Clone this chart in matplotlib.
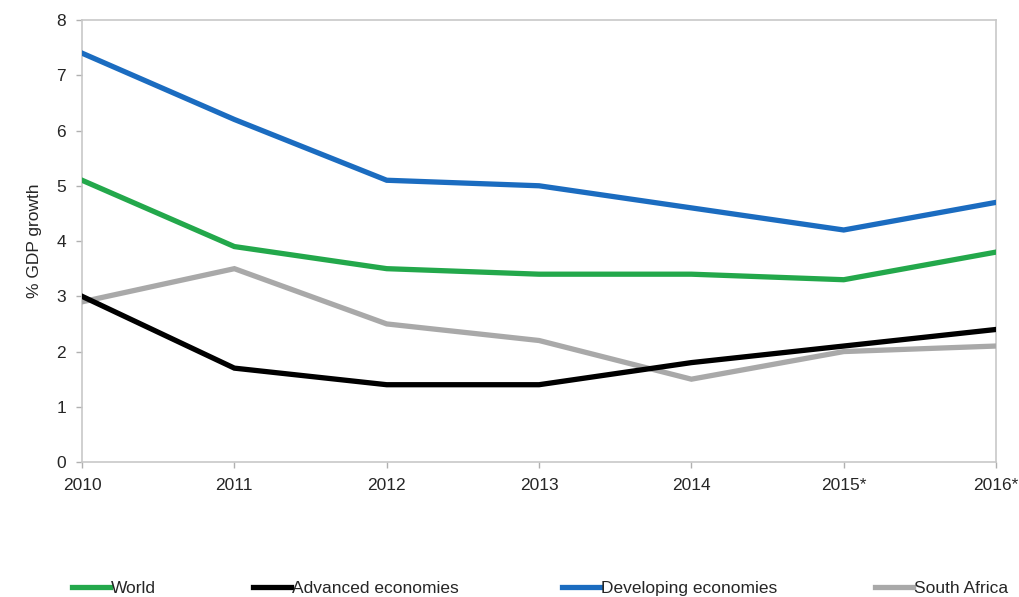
import matplotlib.pyplot as plt
from matplotlib.lines import Line2D

plt.rcParams['font.family'] = ['Liberation Sans', 'DejaVu Sans']

# GDP growth, % per year
years = ['2010', '2011', '2012', '2013', '2014', '2015*', '2016*']
world = [5.1, 3.9, 3.5, 3.4, 3.4, 3.3, 3.8]
advanced = [3.0, 1.7, 1.4, 1.4, 1.8, 2.1, 2.4]
developing = [7.4, 6.2, 5.1, 5.0, 4.6, 4.2, 4.7]
south_africa = [2.9, 3.5, 2.5, 2.2, 1.5, 2.0, 2.1]

series = [
    ('World', world, '#23a84b'),
    ('Advanced economies', advanced, '#000000'),
    ('Developing economies', developing, '#1b6cc0'),
    ('South Africa', south_africa, '#a9a9a9'),
]

text_col = '#262626'
fs = 12.5

fig = plt.figure(figsize=(10.19, 5.97), dpi=100)
ax = fig.add_axes([0.0805, 0.226, 0.897, 0.7405])

x = range(len(years))
# grey first so it sits under the others where they cross
for name, vals, col in [series[3], series[0], series[1], series[2]]:
    ax.plot(x, vals, color=col, lw=3.8, solid_joinstyle='miter', zorder=3)

ax.set_xlim(0, len(years) - 1)
ax.set_ylim(0, 8)
ax.set_xticks(list(x))
ax.set_xticklabels(years)
ax.set_yticks(range(0, 9))
ax.tick_params(axis='both', labelsize=fs, colors='#b0b0b0', labelcolor=text_col,
               length=4, width=1)
ax.tick_params(axis='x', pad=7.5)
ax.tick_params(axis='y', pad=7.5)
for s in ax.spines.values():
    s.set_color('#c8c8c8')
    s.set_linewidth(1.2)

ax.set_ylabel('% GDP growth', fontsize=fs, color=text_col, labelpad=10)

# legend entries laid out along the bottom
legend_x = [72, 253, 562, 875]
for (name, vals, col), lx in zip(series, legend_x):
    h = Line2D([], [], color=col, lw=3.8)
    fig.legend([h], [name], loc='center left',
               bbox_to_anchor=(lx / 1019, 1 - 588 / 597),
               frameon=False, fontsize=fs, handlelength=2.2,
               handletextpad=0.05, borderpad=0, borderaxespad=0,
               labelcolor=text_col)

plt.savefig('out.png', dpi=100)
